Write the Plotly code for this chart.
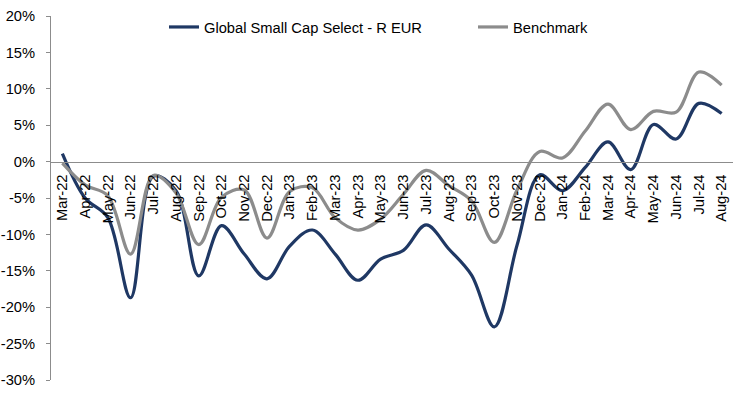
import plotly.graph_objects as go

months = ["Mar-22", "Apr-22", "May-22", "Jun-22", "Jul-22", "Aug-22", "Sep-22", "Oct-22",
          "Nov-22", "Dec-22", "Jan-23", "Feb-23", "Mar-23", "Apr-23", "May-23", "Jun-23",
          "Jul-23", "Aug-23", "Sep-23", "Oct-23", "Nov-23", "Dec-23", "Jan-24", "Feb-24",
          "Mar-24", "Apr-24", "May-24", "Jun-24", "Jul-24", "Aug-24"]

fund = [1.1, -5.0, -7.7, -18.7, -2.0, -4.0, -15.7, -8.8,
        -12.7, -16.1, -11.6, -9.4, -12.7, -16.3, -13.4, -12.2,
        -8.7, -12.0, -15.6, -22.7, -11.5, -1.8, -4.0, -0.8,
        2.7, -1.1, 5.1, 3.1, 8.0, 6.6]

benchmark = [-0.2, -3.2, -4.7, -12.7, -1.9, -4.3, -11.4, -4.9,
             -3.9, -10.5, -4.1, -3.6, -7.7, -9.4, -7.9, -4.5,
             -1.2, -3.3, -5.4, -11.1, -3.9, 1.4, 0.5, 4.2,
             7.9, 4.4, 6.9, 6.8, 12.3, 10.5]

y_ticks = [-30, -25, -20, -15, -10, -5, 0, 5, 10, 15, 20]
y_tick_labels = [f"{v}%" for v in y_ticks]

FONT = "Liberation Sans, Arial, sans-serif"
NAVY = "#1f3864"
GRAY = "#8c8c8c"

fig = go.Figure()
fig.add_trace(go.Scatter(
    x=months, y=fund, mode="lines", name="Global Small Cap Select - R EUR",
    line=dict(color=NAVY, width=3.2, shape="spline", smoothing=1.0),
    legend="legend",
))
fig.add_trace(go.Scatter(
    x=months, y=benchmark, mode="lines", name="Benchmark",
    line=dict(color=GRAY, width=3.2, shape="spline", smoothing=1.0),
    legend="legend2",
))

legend_common = dict(
    orientation="h", y=1.014, xanchor="left", yanchor="top",
    font=dict(family=FONT, size=14.7, color="black"),
    bgcolor="rgba(0,0,0,0)", borderwidth=0, itemclick=False,
)

fig.update_layout(
    template="none",
    width=742, height=393,
    margin=dict(l=51, r=9, t=16, b=13, autoexpand=False),
    paper_bgcolor="white", plot_bgcolor="white",
    font=dict(family=FONT, size=14.7, color="black"),
    showlegend=True,
    legend=dict(x=0.1657, **legend_common),
    legend2=dict(x=0.6188, **legend_common),
    xaxis=dict(
        type="category", range=[-0.5, len(months) - 0.5],
        anchor="free", position=30 / 50, automargin=False,
        showline=True, linecolor=GRAY, linewidth=1,
        showgrid=False, zeroline=False, ticks="",
        tickangle=-90, tickfont=dict(family=FONT, size=14.7, color="black"),
        ticklabelstandoff=6,
    ),
    yaxis=dict(
        range=[-30, 20], domain=[0, 1], automargin=False,
        tickmode="array", tickvals=y_ticks, ticktext=y_tick_labels,
        showline=True, linecolor=GRAY, linewidth=1,
        ticks="outside", ticklen=4, tickcolor=GRAY,
        showgrid=False, zeroline=False,
        tickfont=dict(family=FONT, size=14.7, color="black"),
        ticklabelstandoff=8,
    ),
)

fig.write_html(
    "out.html",
    config={"displayModeBar": False},
    post_script="document.body.style.margin='0';document.body.style.overflow='hidden';",
)
